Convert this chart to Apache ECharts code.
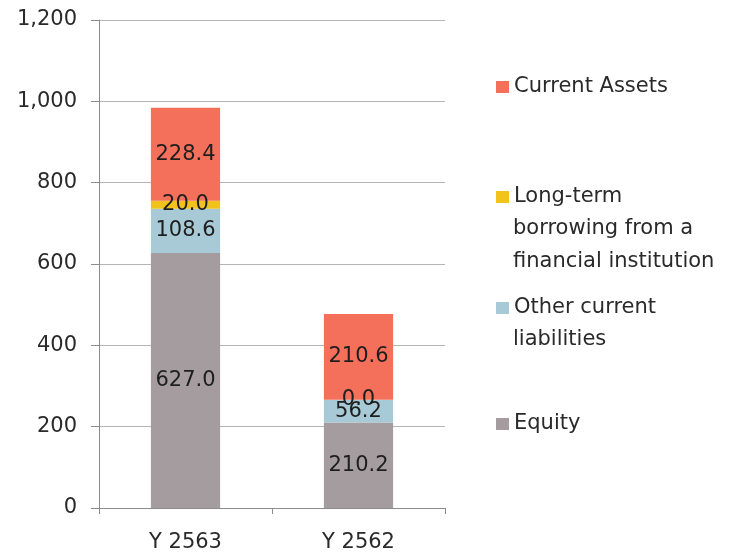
<!DOCTYPE html>
<html lang="en">
<head>
<meta charset="UTF-8">
<title>Balance chart</title>
<script src="https://cdn.jsdelivr.net/npm/echarts@6/dist/echarts.min.js"></script>
<style>
body {margin: 0; background: #fff;}
#main {width: 733px; height: 556px;}
</style>
</head>
<body>
<div id="main"></div>
<script>
// categories and values
var years = ['Y 2563', 'Y 2562'];
var equity = [627.0, 210.2];
var otherLiab = [108.6, 56.2];
var longTerm = [20.0, 0.0];
var currentAssets = [228.4, 210.6];

var names = ['Equity', 'Other current liabilities', 'Long-term borrowing from a financial institution', 'Current Assets'];
var colors = ['#a59c9f', '#a8cad6', '#f2c31c', '#f4705a'];
var values = [equity, otherLiab, longTerm, currentAssets];

var chart = echarts.init(document.getElementById('main'));
var font = 'DejaVu Sans';
var fs = 21;

// legend text split into the lines shown in the picture
var legendLines = {
    'Current Assets': ['Current Assets'],
    'Long-term borrowing from a financial institution': ['Long-term', 'borrowing from a', 'financial institution'],
    'Other current liabilities': ['Other current', 'liabilities'],
    'Equity': ['Equity']
};
// vertical centre of each legend's first line
var legendMid = {'Current Assets': 86, 'Long-term borrowing from a financial institution': 196, 'Other current liabilities': 307, 'Equity': 423};
var lineGap = 33;

var legends = names.map(function (n) {
    return {
        data: [n],
        left: 491,
        top: legendMid[n] - 16,
        itemWidth: 13,
        itemHeight: 12,
        itemGap: 9,
        icon: 'rect',
        formatter: function (name) { return legendLines[name][0]; },
        textStyle: {fontFamily: font, fontSize: fs, color: '#2a2a2a', lineHeight: 24},
        selectedMode: false
    };
});

// continuation lines of the long legend names
var extraText = [];
names.forEach(function (n) {
    legendLines[n].slice(1).forEach(function (t, k) {
        extraText.push({
            type: 'text',
            left: 513,
            top: legendMid[n] + lineGap * (k + 1) - 12,
            style: {text: t, font: fs + 'px "' + font + '"', fill: '#2a2a2a', lineHeight: 24}
        });
    });
});

chart.setOption({
    animation: false,
    legend: legends,
    graphic: extraText,
    grid: {left: 99, right: 288, top: 20, bottom: 48},
    xAxis: {
        type: 'category',
        data: years,
        axisLine: {lineStyle: {color: '#8c8c8c'}},
        axisTick: {show: true, length: 6, lineStyle: {color: '#8c8c8c'}},
        axisLabel: {fontFamily: font, fontSize: fs, color: '#2a2a2a', margin: 24}
    },
    yAxis: {
        type: 'value',
        min: 0,
        max: 1200,
        interval: 200,
        axisLine: {show: true, lineStyle: {color: '#8c8c8c'}},
        axisTick: {show: true, length: 8, lineStyle: {color: '#8c8c8c'}},
        splitLine: {lineStyle: {color: '#b5b5b5'}},
        axisLabel: {
            fontFamily: font, fontSize: fs, color: '#2a2a2a', margin: 22,
            formatter: function (v) { return v.toLocaleString('en-US'); }
        }
    },
    series: names.map(function (n, i) {
        return {
            name: n,
            type: 'bar',
            stack: 'total',
            barWidth: '40%',
            data: values[i],
            itemStyle: {color: colors[i]},
            label: {
                show: true,
                position: 'inside',
                fontFamily: font,
                fontSize: fs,
                color: '#1e1e1e',
                formatter: function (p) { return p.value.toFixed(1); }
            }
        };
    })
});
</script>
</body>
</html>
